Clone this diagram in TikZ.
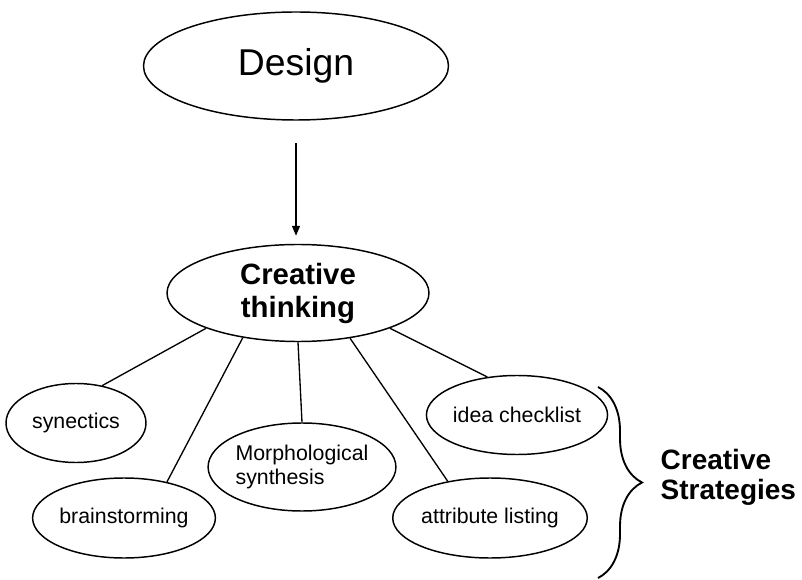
\documentclass[tikz,border=0pt]{standalone}
\usepackage{fontspec}
\setmainfont{Liberation Sans}
\usetikzlibrary{positioning,arrows.meta,shapes.geometric,decorations.pathreplacing}

\tikzset{
    oval/.style={ellipse, draw, line width=1.1pt, inner sep=0pt},
    strategy/.style={oval, font=\fontsize{16}{17.5}\selectfont},
}

\begin{document}
\begin{tikzpicture}[x=0.75pt, y=-0.75pt, line width=1pt]
    \useasboundingbox (0,0) rectangle (802,580);
    \node (D) [oval, minimum width=228.75pt, minimum height=81pt, font=\fontsize{28}{32}\selectfont] at (296,66) {Design};
    \node (CT) [oval, minimum width=196.5pt, minimum height=72.75pt, align=center, font=\fontsize{22}{24.75}\selectfont\bfseries] at (298,293) {Creative\\thinking};
    \node (syn) [strategy, minimum width=105pt, minimum height=59.25pt] at (76,423) {synectics};
    \node (brain) [strategy, minimum width=103.5pt, minimum height=60pt] at (124,518) {brainstorming};
    \node (morph) [strategy, minimum width=116.25pt, minimum height=66pt, align=left] at (302,467) {Morphological\\synthesis};
    \node (idea) [strategy, minimum width=111.75pt, minimum height=59.25pt] at (517,415) {idea checklist};
    \node (attr) [strategy, minimum width=116.25pt, minimum height=60pt] at (490,518) {attribute listing};
    \node (CS) [anchor=west, inner sep=0pt, align=left, font=\fontsize{21}{22.5}\selectfont\bfseries] at (660,477) {Creative\\Strategies};
    \coordinate (top) at (598,387);
    \coordinate (bot) at (598,578);
    \draw[-{Triangle[length=7.5pt,width=6pt]}, shorten <=17pt, shorten >=6pt] (D.south) -- (D.south |- CT.north);
    \draw
        (CT.201) edge (syn.55)
        (CT.219) edge (brain.40)
        (CT.south) edge (morph.north)
        (CT.319) edge (attr.139)
        (CT.339) edge (idea.128);
    \draw[line width=1.4pt, decorate, decoration={brace, amplitude=33pt}] (top) -- (bot);
\end{tikzpicture}
\end{document}
